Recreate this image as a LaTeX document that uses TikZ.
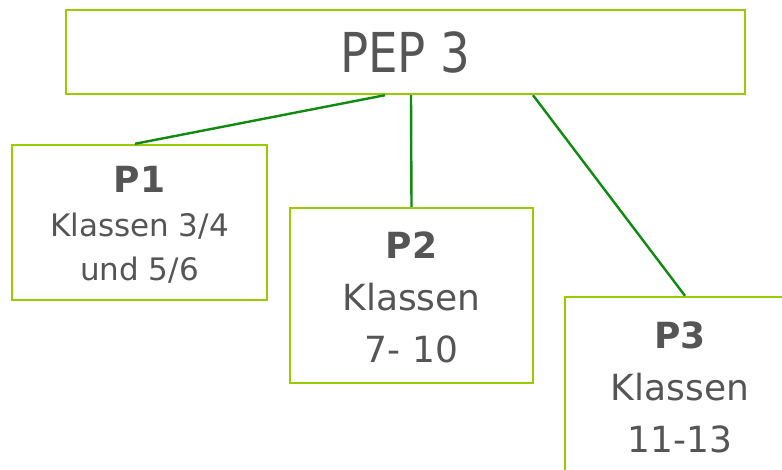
\documentclass[tikz,border=0pt]{standalone}
\usepackage{fontspec}
\usepackage{graphicx}
\setmainfont{DejaVu Sans}
\definecolor{boxline}{HTML}{99CC00}
\definecolor{connline}{HTML}{108A10}
\definecolor{txt}{HTML}{555555}
\begin{document}
\begin{tikzpicture}[x=1pt,y=-1pt,
  box/.style={draw=boxline,line width=2.4pt,fill=white,rectangle,inner sep=0pt},
  conn/.style={draw=connline,line width=2.4pt},
  lbl/.style={text=txt,align=center,inner sep=0pt}]
\clip (0,0) rectangle (782,470);
\fill[white] (0,0) rectangle (782,470);
% boxes
\node[box,minimum width=679pt,minimum height=84pt] (top) at (405.5,52) {};
\node[box,minimum width=255pt,minimum height=155pt] (p1) at (139.5,222.5) {};
\node[box,minimum width=243pt,minimum height=175pt] (p2) at (411.5,295.5) {};
\node[box,minimum width=230pt,minimum height=180pt] (p3) at (680,387) {};
% connectors
\draw[conn] ([xshift=-20.5pt]top.south) -- ([xshift=-4.5pt]p1.north);
\draw[conn] ([xshift=5.5pt]top.south) -- ([xshift=0pt]p2.north);
\draw[conn] ([xshift=127.5pt]top.south) -- ([xshift=5pt]p3.north);
% labels
\node[lbl,font=\fontsize{55}{60}\selectfont] (t0) at (top.center) {\scalebox{0.85}[1]{PEP 3}};
\node[lbl,font=\fontsize{31}{44}\selectfont] (t1) at ([yshift=-2pt]p1.center) {{\fontsize{36}{44}\selectfont\textbf{P1}}\\Klassen 3/4\\und 5/6};
\node[lbl,font=\fontsize{36}{52}\selectfont] (t2) at ([yshift=-2pt]p2.center) {\textbf{P2}\\Klassen\\7- 10};
\node[lbl,font=\fontsize{36}{52}\selectfont] (t3) at (p3.center) {\textbf{P3}\\Klassen\\11-13};
\end{tikzpicture}
\end{document}
